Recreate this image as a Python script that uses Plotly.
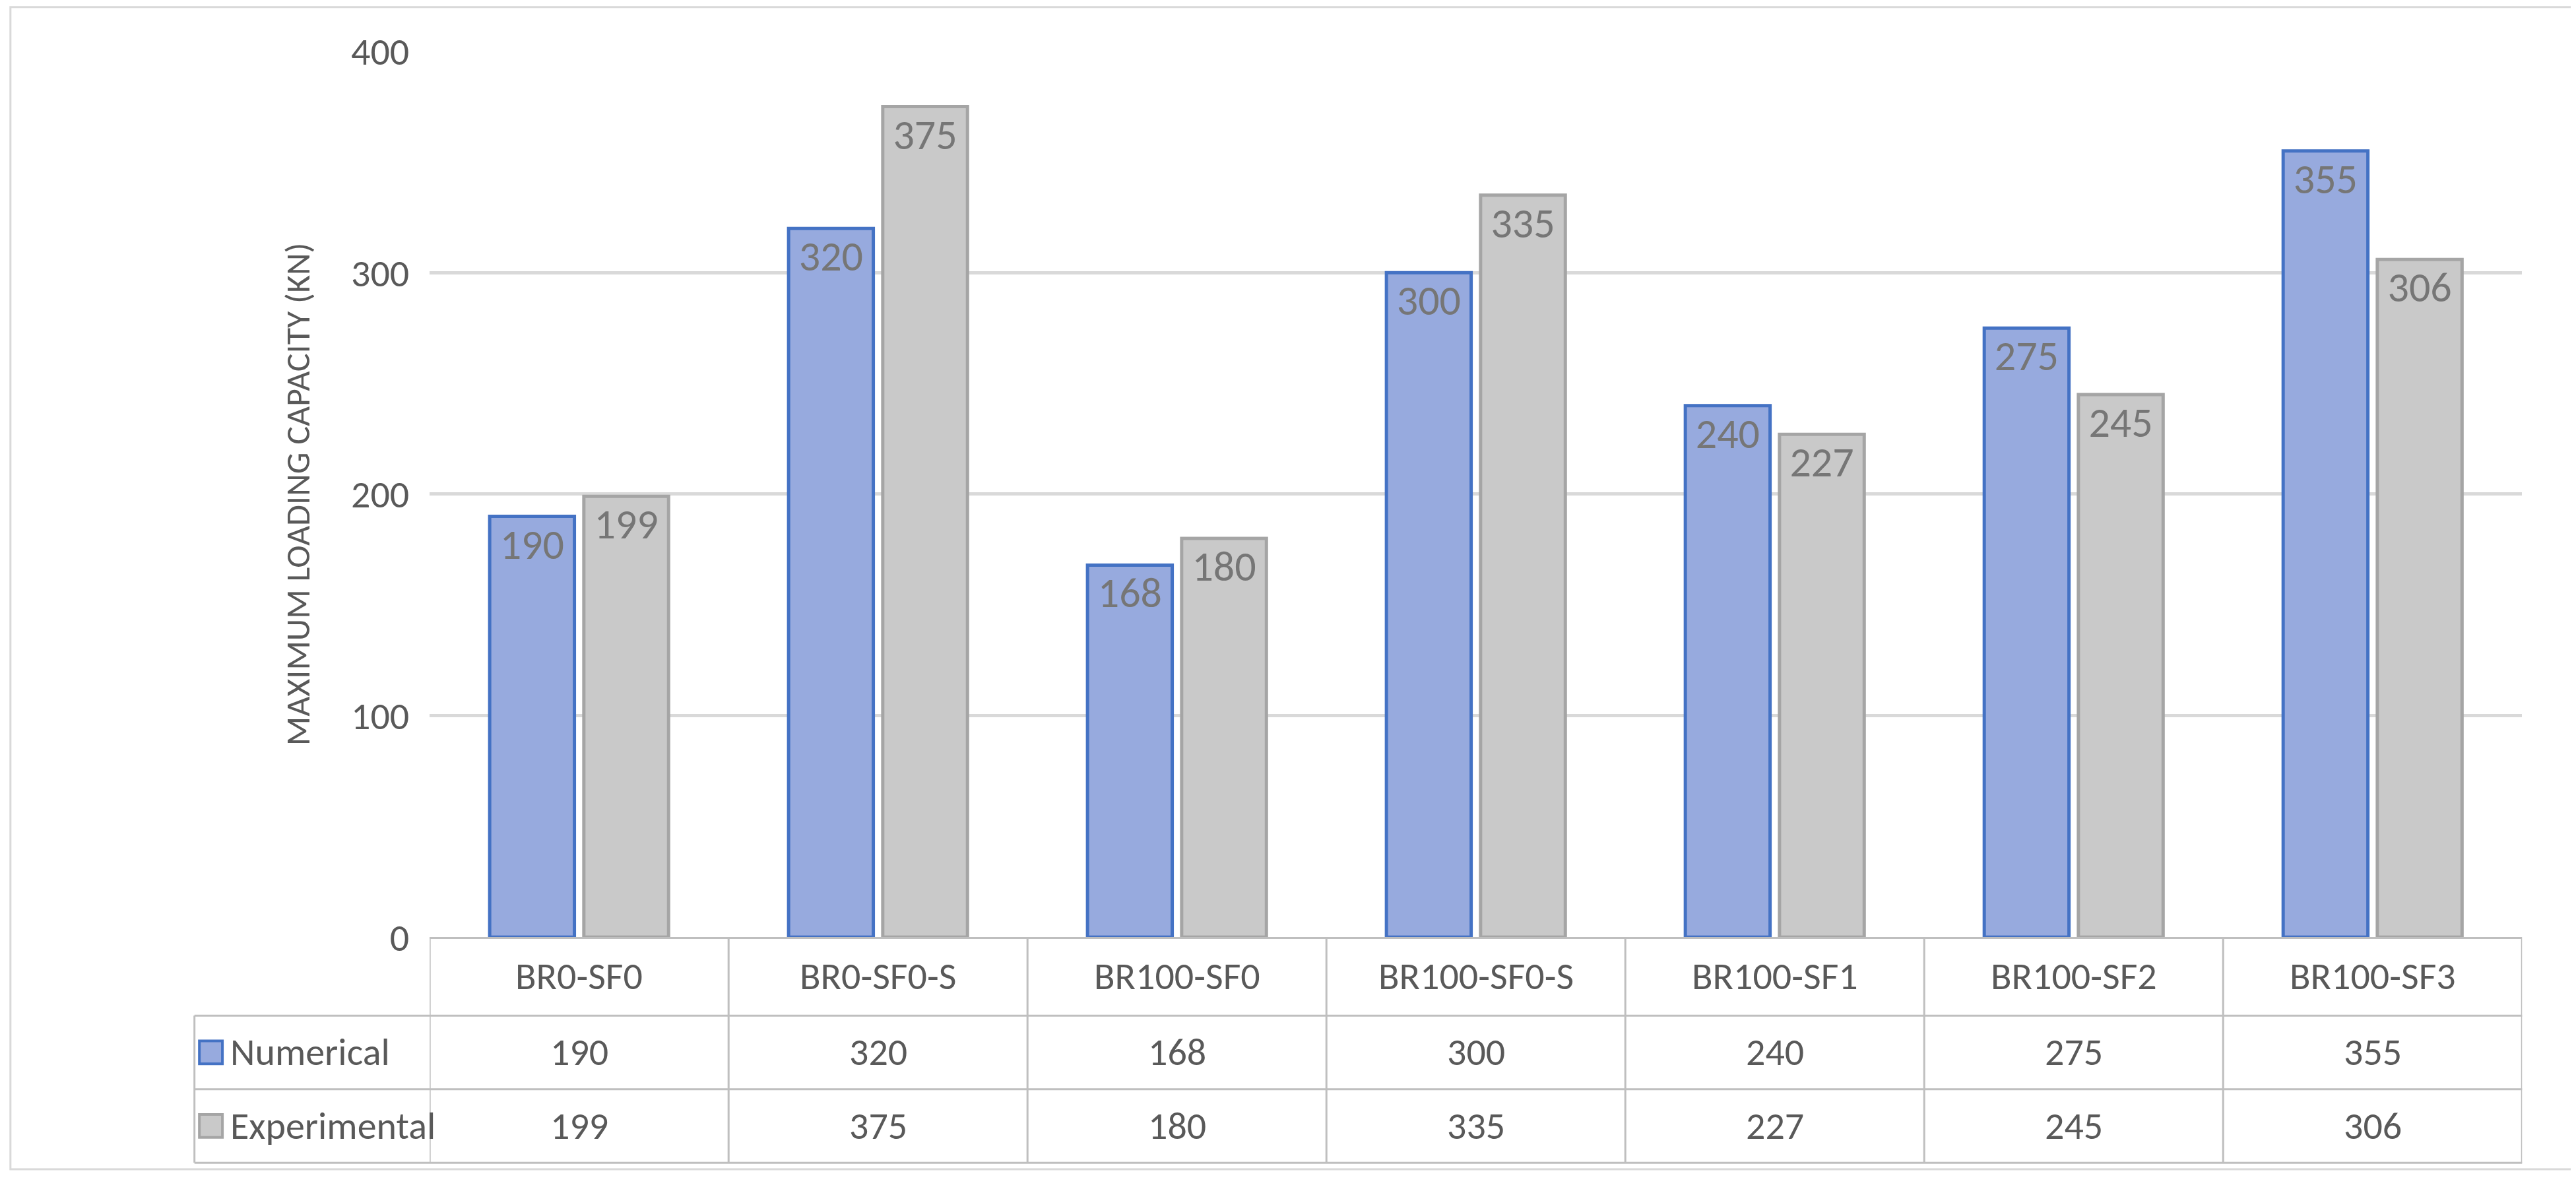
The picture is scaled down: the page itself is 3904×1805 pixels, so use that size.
import plotly.graph_objects as go

categories = ["BR0-SF0", "BR0-SF0-S", "BR100-SF0", "BR100-SF0-S", "BR100-SF1", "BR100-SF2", "BR100-SF3"]
numerical = [190, 320, 168, 300, 240, 275, 355]
experimental = [199, 375, 180, 335, 227, 245, 306]
series_names = ["Numerical", "Experimental"]
y_ticks = [0, 100, 200, 300, 400]

W, H = 3904, 1805
# layout positions expressed in reference display units (1568 x 715)
px = lambda x: x / 1566
py = lambda y: (716 - y) / 700

x0, x1 = px(258), px(1530)
y_bot, y_top = py(572), py(30)
row_y = [py(572), py(620), py(665), py(710)]
left_col = px(115)
txt = "#595959"
font = "Carlito, Calibri, Liberation Sans, Arial"

fig = go.Figure()
fills = ["#97aade", "#c9c9c9"]
lines = ["#4472c4", "#a5a5a5"]
for i, (name, vals) in enumerate(zip(series_names, [numerical, experimental])):
    fig.add_trace(go.Bar(
        x=categories, y=vals, name=name,
        marker=dict(color=fills[i], line=dict(color=lines[i], width=5)),
        text=[str(v) for v in vals], textposition="inside", insidetextanchor="end",
        textfont=dict(size=64, color="#767676", family=font), textangle=0,
        showlegend=False,
    ))

shapes = []
for k in range(len(categories) + 1):
    shapes.append(dict(type="line", xref="x", yref="paper", x0=k - 0.5, x1=k - 0.5,
                       y0=row_y[3], y1=row_y[0], line=dict(color="#bfbfbf", width=3)))
shapes.append(dict(type="line", xref="paper", yref="paper", x0=left_col, x1=left_col,
                   y0=row_y[3], y1=row_y[1], line=dict(color="#bfbfbf", width=3)))
for yy in row_y[1:]:
    shapes.append(dict(type="line", xref="paper", yref="paper", x0=left_col, x1=x1,
                       y0=yy, y1=yy, line=dict(color="#bfbfbf", width=3)))
shapes.append(dict(type="rect", xref="paper", yref="paper", x0=0.002, x1=0.998, y0=py(714), y1=py(3),
                   line=dict(color="#d9d9d9", width=3)))

annotations = []
for r, vals in enumerate([numerical, experimental]):
    yc = (row_y[r + 1] + row_y[r + 2]) / 2
    for c, v in zip(categories, vals):
        annotations.append(dict(x=c, y=yc, xref="x", yref="paper", text=str(v), showarrow=False,
                                yanchor="middle", font=dict(size=58, color=txt, family=font)))
    shapes.append(dict(type="rect", xref="paper", yref="paper",
                       x0=px(118), x1=px(132), y0=yc - 7 / 700, y1=yc + 7 / 700,
                       fillcolor=fills[r], line=dict(color=lines[r], width=4)))
    annotations.append(dict(x=px(136), y=yc, xref="paper", yref="paper", text=series_names[r],
                            showarrow=False, xanchor="left", yanchor="middle",
                            font=dict(size=58, color=txt, family=font)))
yh = (row_y[0] + row_y[1]) / 2
for c in categories:
    annotations.append(dict(x=c, y=yh, xref="x", yref="paper", text=c, showarrow=False,
                            yanchor="middle", font=dict(size=58, color=txt, family=font)))

fig.update_layout(
    width=W, height=H, margin=dict(l=0, r=0, t=0, b=0),
    paper_bgcolor="white", plot_bgcolor="white",
    barmode="group", bargap=0.37, bargroupgap=0.1,
    xaxis=dict(domain=[x0, x1], showticklabels=False, showline=True, linecolor="#bfbfbf",
               linewidth=3, range=[-0.5, 6.5]),
    yaxis=dict(domain=[y_bot, y_top], range=[0, 400], tickvals=y_ticks,
               tickfont=dict(size=58, color=txt, family=font), gridcolor="#d9d9d9", gridwidth=5,
               zeroline=False, ticklabelstandoff=30,
               title=dict(text="MAXIMUM LOADING CAPACITY (KN)", standoff=45,
                          font=dict(size=52, color=txt, family=font))),
    shapes=shapes, annotations=annotations,
)
fig.write_html("out.html")
